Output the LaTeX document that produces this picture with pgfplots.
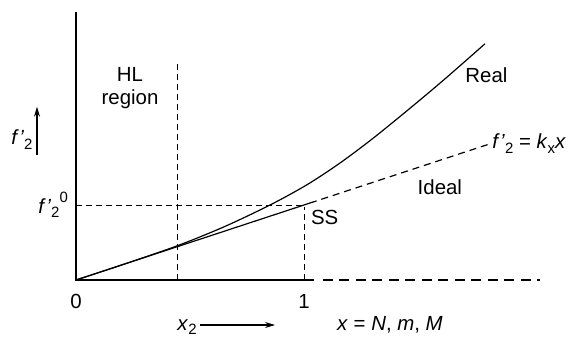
\documentclass[border=0pt]{standalone}
\usepackage{fontspec}
\setmainfont{Liberation Sans}
\usepackage{pgfplots}
\pgfplotsset{compat=1.18}
\usetikzlibrary{arrows.meta}

\newcommand{\sub}[1]{\raisebox{-0.4ex}{\fontsize{15}{15}\selectfont #1}}
\newcommand{\sups}[1]{\raisebox{1.0ex}{\fontsize{15}{15}\selectfont #1}}
\newcommand{\fp}{\textit{f}\kern0.5pt\textit{'}}

\begin{document}
\fontsize{20.5}{24}\selectfont
\begin{tikzpicture}
\begin{axis}[
  x=228bp, y=75bp,
  xmin=-0.3333, xmax=2.1842,
  ymin=-0.7333, ymax=3.7333,
  axis lines=none, ticks=none,
  clip=false,
  every axis plot/.append style={black},
]
  % page frame
  \path (axis cs:-0.3333,-0.7333) rectangle (axis cs:2.1842,3.7333);

  % axes
  \addplot[line width=2pt] coordinates {(0,3.57) (0,0) (1.044,0)};
  \addplot[line width=2.4pt, dash pattern=on 10bp off 6.5bp] coordinates {(1.083,0) (2.035,0)};

  % guide lines
  \addplot[line width=0.9pt, dash pattern=on 6bp off 4bp] coordinates {(0.443,0) (0.443,2.9)};
  \addplot[line width=0.9pt, dash pattern=on 6bp off 4bp] coordinates {(0,1) (1,1)};
  \addplot[line width=0.9pt, dash pattern=on 6bp off 4bp] coordinates {(1,0) (1,0.97)};

  % ideal behaviour
  \addplot[line width=1.2pt] coordinates {(0,0) (1.026,1.026)};
  \addplot[line width=1.2pt, dash pattern=on 7bp off 5bp] coordinates {(1.026,1.026) (1.816,1.816)};

  % real behaviour
  \addplot[line width=1.2pt, smooth] coordinates {
    (0,0) (0.2,0.2) (0.443,0.455) (0.65,0.71) (0.851,1.0) (1.013,1.27)
    (1.158,1.56) (1.303,1.89) (1.465,2.29) (1.61,2.66) (1.794,3.15)};

  % labels
  \node[align=center, font=\fontsize{20.5}{23}\selectfont] at (axis cs:0.237,2.56) {HL\\region};
  \node at (axis cs:1.80,2.73) {Real};
  \node at (axis cs:1.596,1.24) {Ideal};
  \node[anchor=west, inner sep=0pt] at (axis cs:1.03,0.83) {SS};
  \node[anchor=west, inner sep=0pt] at (axis cs:1.825,1.82) {\fp\sub{2} = \textit{k}\sub{x}\textit{x}};
  \node[anchor=east, inner sep=0pt] at (axis cs:-0.035,1.0) {\fp\sub{2}\sups{0}};
  \node[anchor=east, inner sep=0pt] at (axis cs:-0.19,1.87) {\fp\sub{2}};
  \draw[line width=1.1pt, -{Stealth[length=10bp, width=6bp]}] (axis cs:-0.171,1.667) -- (axis cs:-0.171,2.31);
  \node at (axis cs:0,-0.29) {0};
  \node at (axis cs:1,-0.29) {1};
  \node at (axis cs:0.487,-0.63) {\textit{x}\sub{2}};
  \draw[line width=1.1pt, -{Stealth[length=10bp, width=6bp]}] (axis cs:0.544,-0.6) -- (axis cs:0.873,-0.6);
  \node at (axis cs:1.377,-0.6) {\textit{x} = \textit{N}, \textit{m}, \textit{M}};
\end{axis}
\end{tikzpicture}
\end{document}
